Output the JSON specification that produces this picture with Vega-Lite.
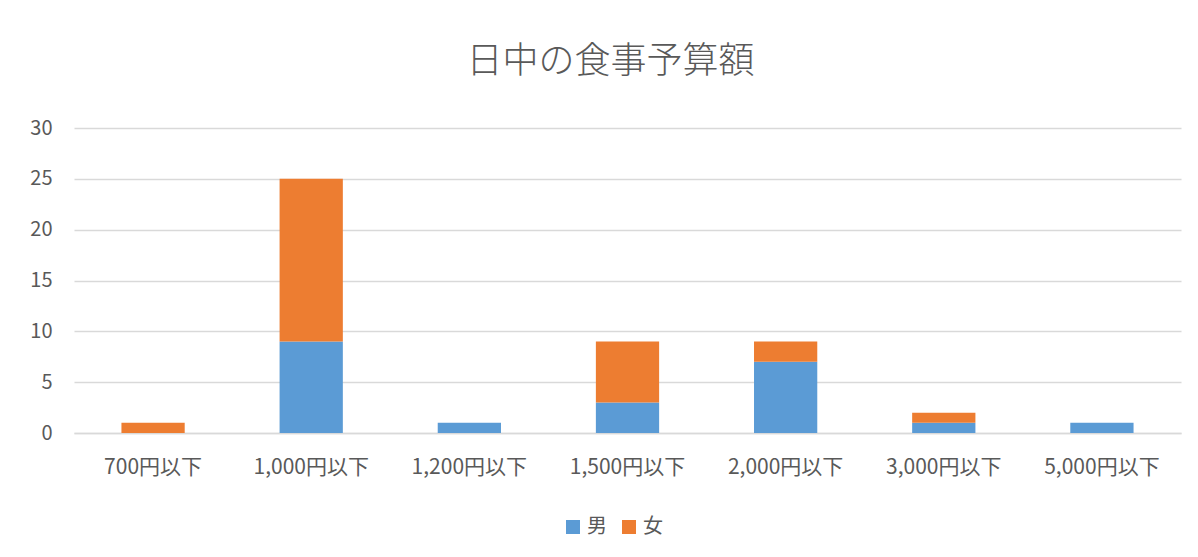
{
  "$schema": "https://vega.github.io/schema/vega-lite/v6.json",
  "autosize": {"type": "none"},
  "width": 1107,
  "height": 305,
  "padding": {"left": 74, "top": 128, "right": 17, "bottom": 124},
  "background": "white",
  "title": {
    "text": "日中の食事予算額",
    "font": "Noto Sans CJK JP",
    "fontSize": 36,
    "fontWeight": 300,
    "color": "#595959",
    "anchor": "middle",
    "dx": -17,
    "offset": 37
  },
  "data": {
    "values": [
      {"予算": "700円以下", "性別": "男", "人数": 0},
      {"予算": "700円以下", "性別": "女", "人数": 1},
      {"予算": "1,000円以下", "性別": "男", "人数": 9},
      {"予算": "1,000円以下", "性別": "女", "人数": 16},
      {"予算": "1,200円以下", "性別": "男", "人数": 1},
      {"予算": "1,200円以下", "性別": "女", "人数": 0},
      {"予算": "1,500円以下", "性別": "男", "人数": 3},
      {"予算": "1,500円以下", "性別": "女", "人数": 6},
      {"予算": "2,000円以下", "性別": "男", "人数": 7},
      {"予算": "2,000円以下", "性別": "女", "人数": 2},
      {"予算": "3,000円以下", "性別": "男", "人数": 1},
      {"予算": "3,000円以下", "性別": "女", "人数": 1},
      {"予算": "5,000円以下", "性別": "男", "人数": 1},
      {"予算": "5,000円以下", "性別": "女", "人数": 0}
    ]
  },
  "mark": {"type": "bar"},
  "encoding": {
    "x": {
      "field": "予算",
      "type": "nominal",
      "sort": ["700円以下", "1,000円以下", "1,200円以下", "1,500円以下", "2,000円以下", "3,000円以下", "5,000円以下"],
      "scale": {"paddingInner": 0.6, "paddingOuter": 0.3},
      "axis": {
        "title": null,
        "labelAngle": 0,
        "ticks": false,
        "domain": true,
        "domainColor": "#d9d9d9",
        "domainWidth": 1.5,
        "labelPadding": 23,
        "labelFont": "Noto Sans CJK JP",
        "labelFontSize": 21,
        "labelColor": "#595959"
      }
    },
    "y": {
      "field": "人数",
      "type": "quantitative",
      "stack": "zero",
      "scale": {"domain": [0, 30]},
      "axis": {
        "title": null,
        "values": [0, 5, 10, 15, 20, 25, 30],
        "ticks": false,
        "domain": false,
        "grid": true,
        "gridColor": "#d9d9d9",
        "gridWidth": 1.5,
        "labelPadding": 22,
        "labelFont": "Noto Sans CJK JP",
        "labelFontSize": 20,
        "labelColor": "#595959"
      }
    },
    "color": {
      "field": "性別",
      "type": "nominal",
      "scale": {"domain": ["男", "女"], "range": ["#5B9BD5", "#ED7D31"]},
      "legend": {
        "title": null,
        "orient": "none",
        "legendX": 489,
        "legendY": 389,
        "direction": "horizontal",
        "symbolType": "square",
        "symbolSize": 196,
        "symbolStrokeWidth": 0,
        "labelFont": "Noto Sans CJK JP",
        "labelFontSize": 20,
        "labelColor": "#595959",
        "columnPadding": 12,
        "labelOffset": 4
      }
    },
    "order": {"field": "性別", "sort": "descending"}
  },
  "config": {
    "view": {"stroke": null},
    "font": "Noto Sans CJK JP"
  }
}
